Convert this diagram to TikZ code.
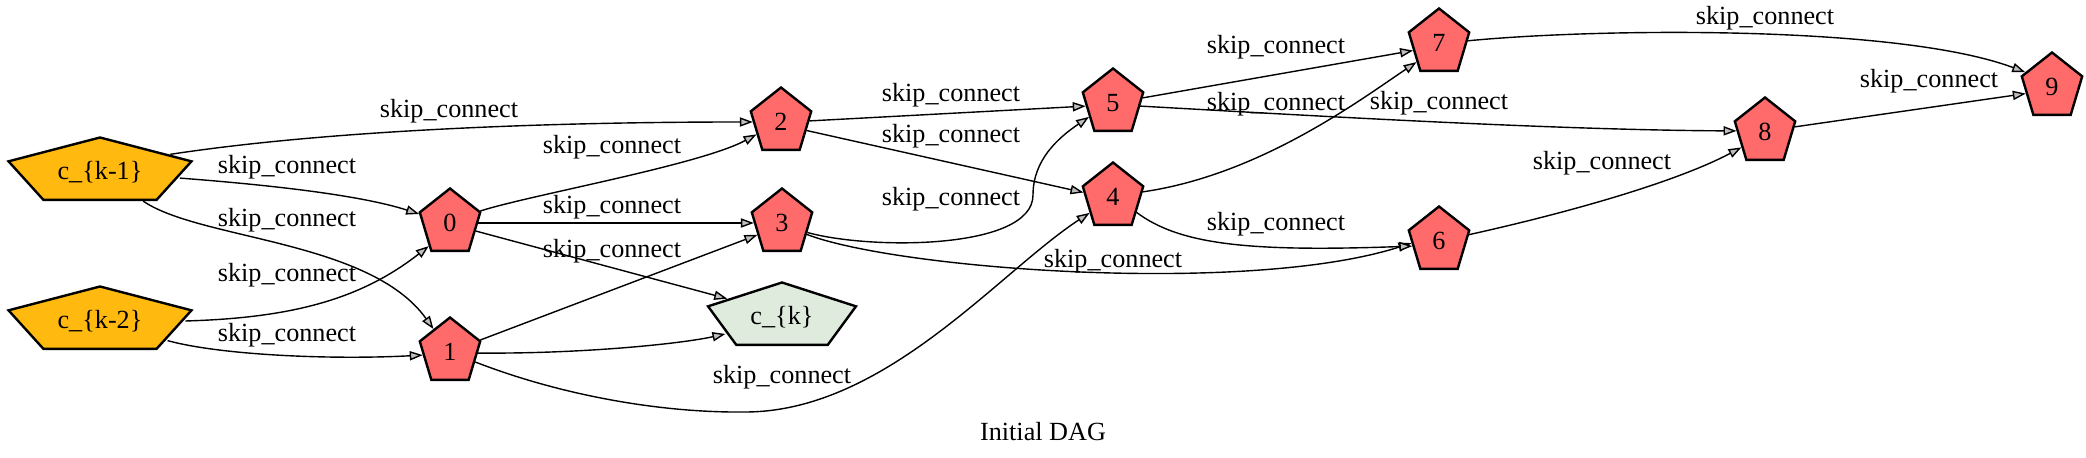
\documentclass[tikz,border=0pt]{standalone}
\usepackage{fontspec}
\setmainfont{Liberation Serif}
\usepackage{graphicx}
\usetikzlibrary{shapes.geometric,arrows.meta,scopes}
\definecolor{opred}{HTML}{FF6A6A}
\definecolor{cellgold}{HTML}{FFB90F}
\definecolor{cellgreen}{HTML}{DFECDD}

\begin{document}
\begin{tikzpicture}[x=0.5pt,y=-0.5pt,
    font=\fontsize{13.1}{15.7}\selectfont,
    op/.style={regular polygon,regular polygon sides=5,draw=black,line width=1.2pt,fill=opred,minimum size=34.5pt,inner sep=0pt,xscale=0.92,transform shape},
    cell/.style={op,fill=#1},
    link/.style={>={Triangle[length=6.5pt,width=4.6pt,fill=black!25]},draw=black,line width=0.7pt},
    lbl/.style={inner sep=0pt},
]
    \useasboundingbox (0,0) rectangle (2086,458);

    \node[cell=cellgold,xscale=3.03] (ck1) at (100,172) {\scalebox{0.359}[1]{c\_\{k-1\}}};
    \node[cell=cellgold,xscale=3.03] (ck2) at (100,321) {\scalebox{0.359}[1]{c\_\{k-2\}}};
    \node[cell=cellgreen,xscale=2.45] (ck) at (782,317) {\scalebox{0.444}[1]{c\_\{k\}}};
    \node[op] (n0) at (450,223) {\scalebox{1.087}[1]{0}};
    \node[op] (n1) at (450,352) {\scalebox{1.087}[1]{1}};
    \node[op] (n2) at (781,122) {\scalebox{1.087}[1]{2}};
    \node[op] (n3) at (782,223) {\scalebox{1.087}[1]{3}};
    \node[op] (n4) at (1113,197) {\scalebox{1.087}[1]{4}};
    \node[op] (n5) at (1113,103) {\scalebox{1.087}[1]{5}};
    \node[op] (n6) at (1439,241) {\scalebox{1.087}[1]{6}};
    \node[op] (n7) at (1439,43) {\scalebox{1.087}[1]{7}};
    \node[op] (n8) at (1765,132) {\scalebox{1.087}[1]{8}};
    \node[op] (n9) at (2052,87) {\scalebox{1.087}[1]{9}};
    {[link,->]
        \draw (ck1.35) .. controls (330,130) and (550,122) .. (n2.180) node[lbl] (sk1n2) at (449,111) {skip\_connect};
        \draw (ck1.-12) .. controls (270,185) and (360,195) .. (n0.165) node[lbl] (sk1n0) at (287,167) {skip\_connect};
        \draw (ck1.-62) .. controls (200,240) and (370,240) .. (n1.128) node[lbl] (sk1n1) at (287,220) {skip\_connect};
        \draw (ck2.0) .. controls (290,318) and (360,300) .. (n0.225) node[lbl] (sk2n0) at (287,275) {skip\_connect};
        \draw (ck2.-39) .. controls (220,355) and (330,360) .. (n1.186) node[lbl] (sk2n1) at (287,335) {skip\_connect};
    }
    {[link,->]
        \draw (n0.20) .. controls (530,195) and (700,165) .. (n2.205) node[lbl] (s0n2) at (612,147) {skip\_connect};
        \draw (n0.0) -- (n3.180) node[lbl] (s0n3) at (612,207) {skip\_connect};
        \draw (n0.-16) -- (ck.143) node[lbl] (s0ck) at (612,251) {skip\_connect};
        \draw (n1.20) -- (n3.204);
        \draw (n1.-2) .. controls (580,354) and (680,344) .. (ck.214);
        \draw (n1.-20) .. controls (560,395) and (660,413) .. (745,412) .. controls (885,412) and (999,272) .. (n4.212) node[lbl] (s1n4) at (782,377) {skip\_connect};
    }
    {[link,->]
        \draw (n2.2) -- (n5.186) node[lbl] (s2n5) at (951,95) {skip\_connect};
        \draw (n2.-17) -- (n4.172) node[lbl] (s2n4) at (951,136) {skip\_connect};
        \draw (n3.-19) .. controls (870,250) and (1033,250) .. (1033,195) .. controls (1033,160) and (1058,138) .. (n5.208) node[lbl] (s3n5) at (951,199) {skip\_connect};
        \draw (n3.-23) .. controls (900,270) and (1250,295) .. (n6.184) node[lbl] (s3n6) at (1113,261) {skip\_connect};
    }
    {[link,->]
        \draw (n4.9) .. controls (1260,175) and (1360,100) .. (n7.218) node[lbl] (s4n7) at (1439,103) {skip\_connect};
        \draw (n4.-31) .. controls (1180,245) and (1250,252) .. (n6.190) node[lbl] (s4n6) at (1276,224) {skip\_connect};
        \draw (n5.9) -- (n7.195) node[lbl] (s5n7) at (1276,47) {skip\_connect};
        \draw (n5.-6) .. controls (1300,115) and (1550,130) .. (n8.178) node[lbl] (s5n8) at (1276,104) {skip\_connect};
        \draw (n6.11) .. controls (1580,210) and (1680,180) .. (n8.211) node[lbl] (s6n8) at (1602,163) {skip\_connect};
        \draw (n7.4) .. controls (1600,28) and (1900,25) .. (n9.153) node[lbl] (s7n9) at (1765,18) {skip\_connect};
        \draw (n8.9) -- (n9.193) node[lbl] (s8n9) at (1929,81) {skip\_connect};
    }
    \node (title) at (1043,432) {Initial DAG};
\end{tikzpicture}
\end{document}
